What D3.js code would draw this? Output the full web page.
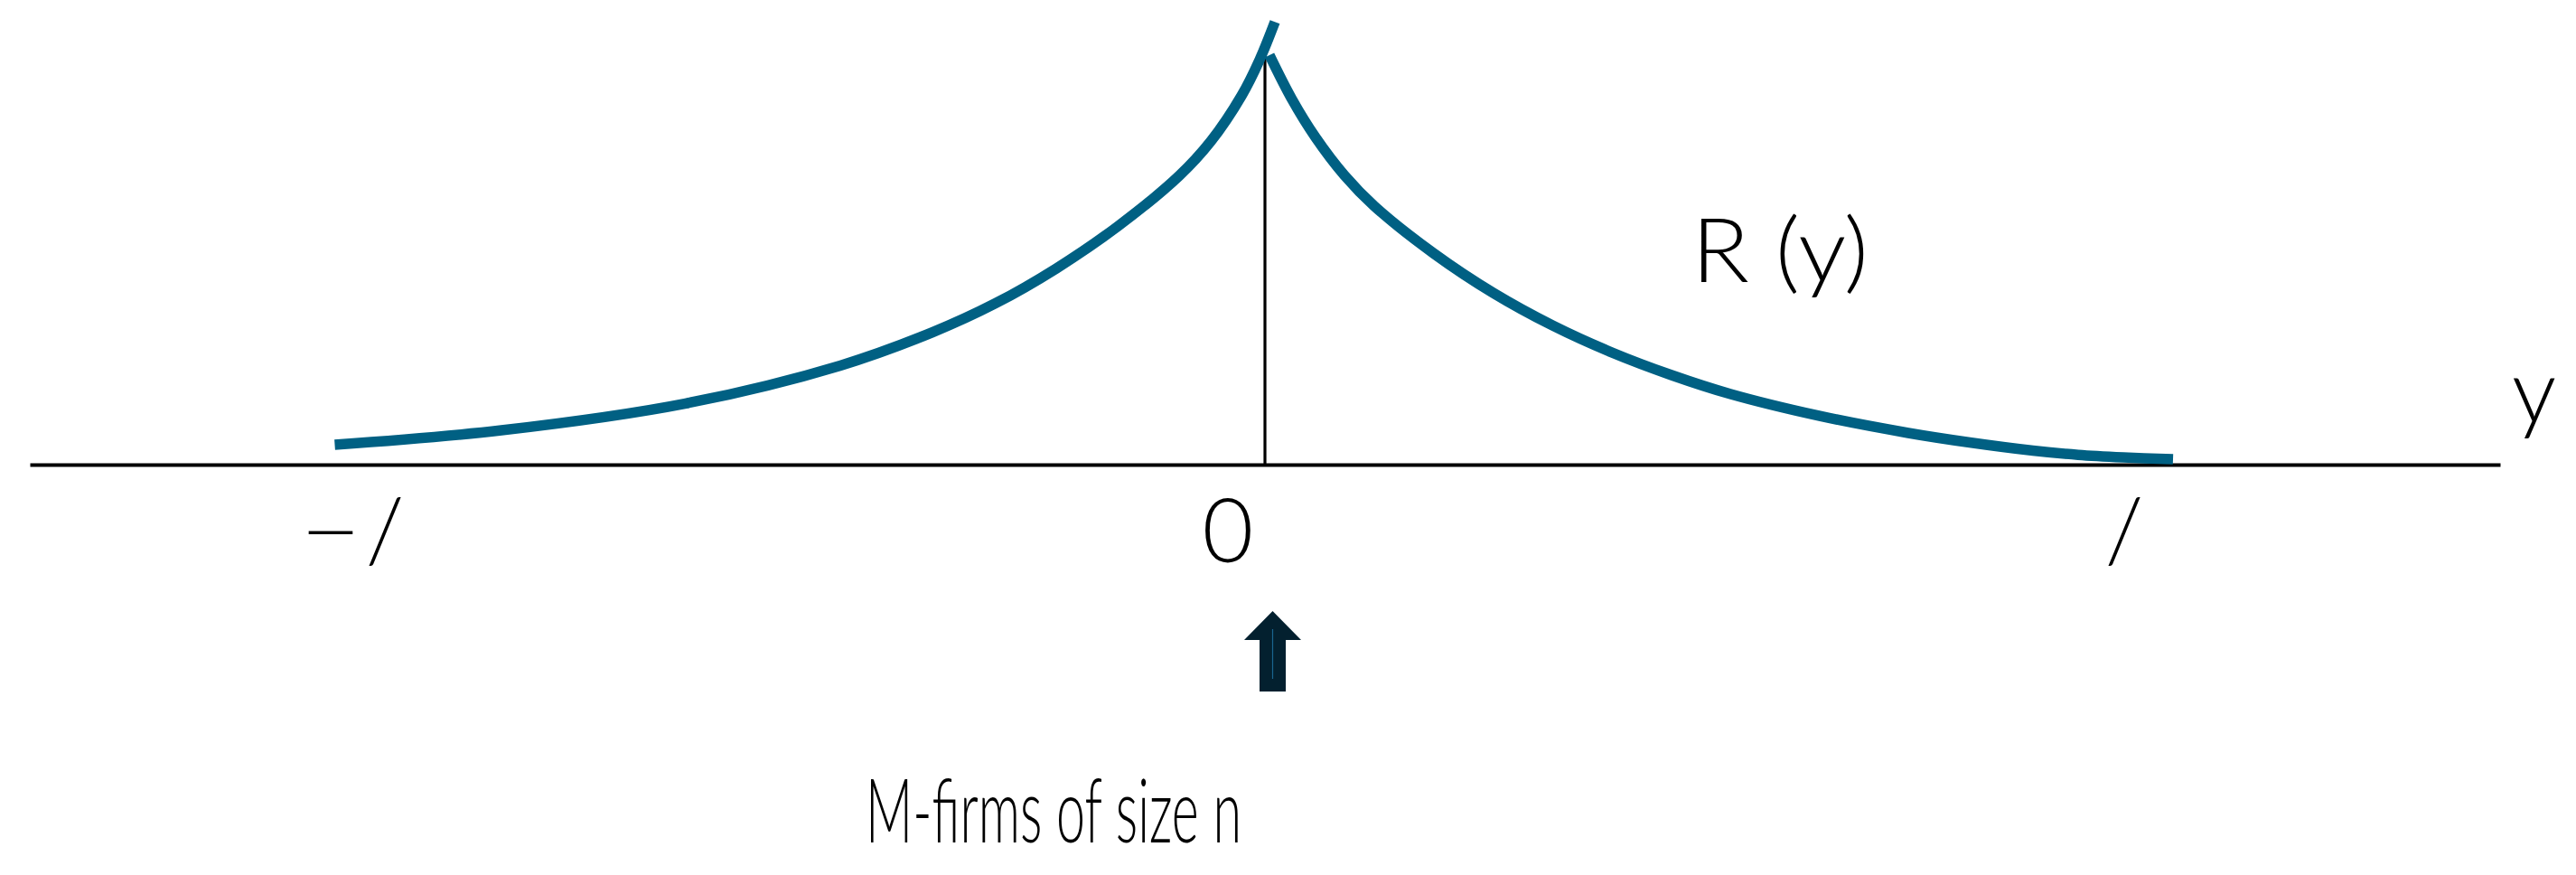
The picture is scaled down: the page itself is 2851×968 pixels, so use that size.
<!DOCTYPE html>
<html>
<head>
<meta charset="utf-8">
<script src="https://cdn.jsdelivr.net/npm/d3@7/dist/d3.min.js"></script>
<style>
  html, body { margin: 0; padding: 0; background: #ffffff; }
  svg { display: block; }
  text { font-family: Lato, "Open Sans", "Noto Sans", "DejaVu Sans", sans-serif; font-weight: 300; fill: #000; }
</style>
</head>
<body>
<svg id="chart" width="2851" height="968"></svg>
<script>
// ---- data ----
// left branch of R(y): y < 0 (rising toward the peak)
const leftY = [-1.0295, -0.845, -0.641, -0.470, -0.368, -0.299, -0.231, -0.163, -0.095, -0.060, -0.026, -0.006, 0.011];
const leftR = [0.0489, 0.0844, 0.1504, 0.2436, 0.3253, 0.3956, 0.4822, 0.5856, 0.7100, 0.7947, 0.9067, 0.9949, 1.0882];
// right branch of R(y): y > 0 (decaying)
const rightY = [0.005, 0.030, 0.056, 0.088, 0.121, 0.187, 0.253, 0.3185, 0.384, 0.450, 0.5155, 0.614, 0.712, 0.780, 0.850, 0.900, 0.950, 1.005];
const rightR = [1.0067, 0.8978, 0.8044, 0.7111, 0.6356, 0.5189, 0.4216, 0.3418, 0.2756, 0.2200, 0.1733, 0.1196, 0.0778, 0.0544, 0.0344, 0.0240, 0.0178, 0.0133];
// vertical reference line at y = 0
const refLineTop = 1.035;
// tick labels on the horizontal axis
const tickValues = [-1, 0, 1];
const tickLabels = ["\u2212/", "0", "/"];
const curveLabel = "R (y)";
const axisLabel = "y";
const arrowLabel = "M-firms of size n";

// ---- layout ----
const svg = d3.select("#chart");
const x = d3.scaleLinear().domain([-1.367, 1.367]).range([33, 2767]);
const yS = d3.scaleLinear().domain([0, 1]).range([514, 64]);

const curveColor = "#006083";
const FS = 98;

// horizontal axis (domain line only)
const axis = d3.axisBottom(x).tickValues([]).tickSize(0).tickSizeOuter(0);
const gAxis = svg.append("g").attr("transform", `translate(0,${yS(0)})`).call(axis);
gAxis.select(".domain").attr("stroke", "#000").attr("stroke-width", 4);

// vertical line at 0
svg.append("line")
  .attr("x1", x(0)).attr("x2", x(0))
  .attr("y1", yS(refLineTop)).attr("y2", yS(0))
  .attr("stroke", "#000").attr("stroke-width", 3.2);

const line = d3.line()
  .x(d => x(d[0])).y(d => yS(d[1]))
  .curve(d3.curveCatmullRom.alpha(0.5));

const rightPts = rightY.map((v, i) => [v, rightR[i]]);
const leftPts = leftY.map((v, i) => [v, leftR[i]]);

svg.append("path").datum(rightPts)
  .attr("d", line).attr("fill", "none")
  .attr("stroke", curveColor).attr("stroke-width", 11.5).attr("stroke-linecap", "butt");
svg.append("path").datum(leftPts)
  .attr("d", line).attr("fill", "none")
  .attr("stroke", curveColor).attr("stroke-width", 11.5).attr("stroke-linecap", "butt");

// tick labels: "−/" split into its two glyphs so they sit as in the original
const baseY = yS(0) + 108;
const pieces = [
  { t: tickLabels[0].charAt(0), dx: -34, len: 68 },   // minus of "−/"
  { t: tickLabels[0].charAt(1), dx: 26, len: null },   // slash of "−/"
  { t: tickLabels[1], dx: -41, len: null },
  { t: tickLabels[2], dx: -49, len: null }
];
const tickIdx = [0, 0, 1, 2];
svg.selectAll("text.tick")
  .data(pieces)
  .enter().append("text")
  .attr("class", "tick")
  .attr("x", (d, i) => x(tickValues[tickIdx[i]]) + d.dx)
  .attr("y", baseY)
  .attr("text-anchor", "middle")
  .attr("font-size", FS)
  .each(function (d) { if (d.len) d3.select(this).attr("textLength", d.len).attr("lengthAdjust", "spacingAndGlyphs"); })
  .text(d => d.t);

// curve label
svg.append("text")
  .attr("x", 1872).attr("y", 312)
  .attr("font-size", FS)
  .attr("textLength", 196).attr("lengthAdjust", "spacingAndGlyphs")
  .text(curveLabel);

// axis label
svg.append("text")
  .attr("x", 2780).attr("y", 468)
  .attr("font-size", FS)
  .text(axisLabel);

// arrow
const ax = x(0) + 8.5;
const arrowPath = [
  [ax, 676], [ax + 31.5, 708], [ax + 14.5, 708], [ax + 14.5, 765],
  [ax - 14.5, 765], [ax - 14.5, 708], [ax - 31.5, 708]
];
svg.append("path")
  .attr("d", d3.line()(arrowPath) + "Z")
  .attr("fill", "#03202f");
svg.append("line")
  .attr("x1", ax).attr("x2", ax).attr("y1", 696).attr("y2", 751)
  .attr("stroke", "#1a6590").attr("stroke-width", 1.2);

// bottom label
svg.append("text")
  .attr("x", 958).attr("y", 932)
  .attr("font-size", FS)
  .attr("textLength", 416).attr("lengthAdjust", "spacingAndGlyphs")
  .text(arrowLabel);
</script>
</body>
</html>
